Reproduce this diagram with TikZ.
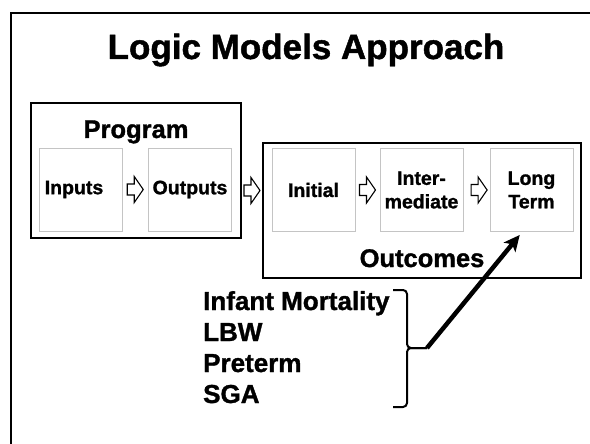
\documentclass[tikz,border=0pt]{standalone}
\usepackage{fontspec}
\setmainfont{Liberation Sans}[BoldFeatures={FakeBold=1.3}]
\usetikzlibrary{arrows.meta,calc}

\definecolor{paleframe}{RGB}{196,196,196}

\tikzset{
  heading/.style={font=\fontsize{35}{42}\selectfont\bfseries, inner sep=0pt},
  grouptitle/.style={font=\fontsize{25.5}{30}\selectfont\bfseries, inner sep=0pt},
  groupbox/.style={draw=black, line width=2.5pt, minimum height=135pt, inner sep=0pt},
  stagebox/.style={draw=paleframe, line width=0.9pt, minimum width=83pt, minimum height=83pt,
    inner sep=0pt, align=center, font=\fontsize{19.5}{23.5}\selectfont\bfseries},
  itemtext/.style={font=\fontsize{26}{31}\selectfont\bfseries, inner sep=0pt, anchor=base west},
  bracket/.style={draw=black, line width=2pt, rounded corners=4pt},
  bigarrow/.style={draw=black, line width=4.5pt, -{Stealth[length=16pt,width=15pt,inset=4pt]}},
  blockarrow/.pic={
    \draw[black, line width=1.1pt, fill=white, line join=miter]
      (-8,-5.5) -- (-1,-5.5) -- (-1,-13) -- (8,0) -- (-1,13) -- (-1,5.5) -- (-8,5.5) -- cycle;
  }
}

\begin{document}
\begin{tikzpicture}[x=1pt, y=-1pt]
  \useasboundingbox (0,0) rectangle (590,444);

  % page frame (left and top edges only)
  \draw[line width=2pt] (11,446) -- (11,13) -- (592,13);

  % heading
  \node[heading, anchor=base] (title) at (306,59) {Logic Models Approach};

  % program group
  \node[groupbox, minimum width=210pt] (program) at (136,170.5) {};
  \node[grouptitle, anchor=base] (programlabel) at (136,138) {Program};
  \node[stagebox] (inputs) at (80.5,189.5) {Inputs\hspace*{13pt}};
  \node[stagebox] (outputs) at (190,189.5) {Outputs};

  % outcomes group
  \node[groupbox, minimum width=318pt] (outcomes) at (422,210.5) {};
  \node[grouptitle, anchor=base] (outcomeslabel) at (422,267) {Outcomes};
  \node[stagebox] (initial) at (313.5,190) {Initial};
  \node[stagebox] (intermediate) at (421.5,190) {Inter-\\mediate};
  \node[stagebox] (longterm) at (531.5,190) {Long\\Term};

  % flow arrows between stages
  \pic at ($(inputs.east)!0.5!(outputs.west)$) {blockarrow};
  \pic at ($(program.east)!0.5!(outcomes.west)$) {blockarrow};
  \pic at ($(initial.east)!0.5!(intermediate.west)$) {blockarrow};
  \pic at ($(intermediate.east)!0.6!(longterm.west)$) {blockarrow};

  % long-term outcome measures
  \node[itemtext] (mortality) at (203,310) {Infant Mortality};
  \node[itemtext] (lbw) at (203,341) {LBW};
  \node[itemtext] (preterm) at (203,372) {Preterm};
  \node[itemtext] (sga) at (203,403) {SGA};

  % bracket grouping the measures
  \coordinate (bracetop) at (393,290);
  \coordinate (bracebottom) at (393,407);
  \coordinate (bracetip) at (427,348);
  \draw[bracket] (bracetop) -- (407,290) -- (407,348) -- (bracetip);
  \draw[bracket] (bracebottom) -- (407,407) -- (407,348) -- (bracetip);

  % measures feed the long-term outcomes
  \coordinate (longtermfoot) at ($(longterm.south west)!0.36!(longterm.south east)+(0,3)$);
  \draw[bigarrow] (bracetip) -- (longtermfoot);
\end{tikzpicture}
\end{document}
